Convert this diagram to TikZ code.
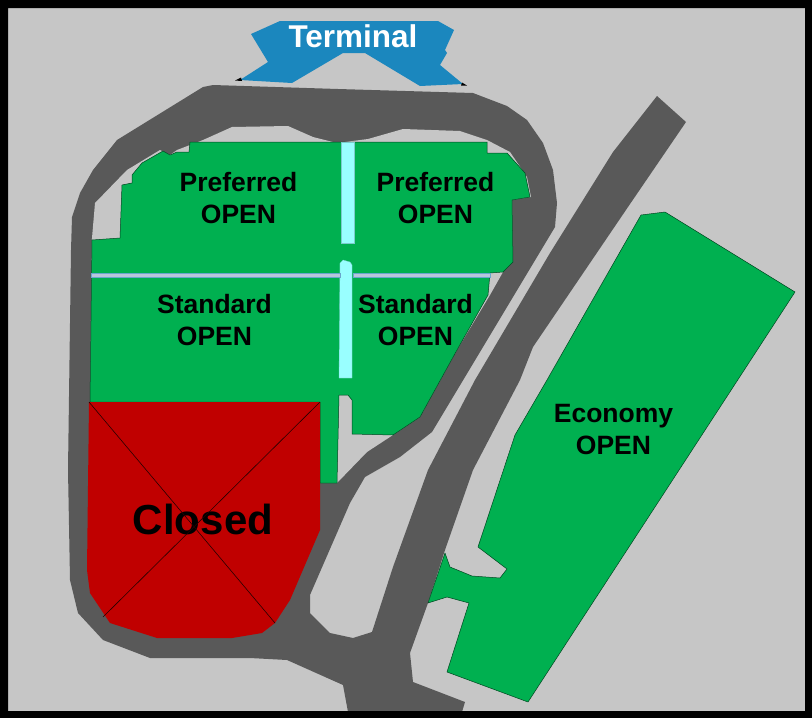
\documentclass[tikz,border=0pt]{standalone}
\usepackage{fontspec}
\setmainfont{Liberation Sans}
\definecolor{lotgray}{HTML}{C6C6C6}
\definecolor{roadgray}{HTML}{595959}
\definecolor{lotgreen}{HTML}{00B050}
\definecolor{lotred}{HTML}{C00000}
\definecolor{termblue}{HTML}{1B87BE}
\definecolor{walkcyan}{HTML}{99FFFF}
\definecolor{stripblue}{HTML}{B8C6DC}
\begin{document}
\begin{tikzpicture}[
  x=1pt, y=-1pt,
  road/.style={fill=roadgray},
  lot/.style={fill=#1, draw=black!60!#1, line width=0.5pt, line join=round},
  walk/.style={fill=walkcyan, draw=black!20!walkcyan, line width=0.3pt},
  strip/.style={fill=stripblue, draw=termblue!50!stripblue, line width=0.4pt},
  lbl/.style={font=\bfseries\fontsize{26.5}{32}\selectfont, align=center, text=black, inner sep=0pt},
]
\useasboundingbox (0,0) rectangle (812,718);
% Ground and frame
\fill[lotgray] (0,0) rectangle (812,718);

% Ring road, branch and main road
\path[road] (203,87) -- (213,85) -- (338,89) -- (473,93) -- (507,106) -- (527,120) -- (543,143)
  -- (553,170) -- (557,203) -- (555,227) -- (432,432) -- (400,457) -- (365,477) -- (350,503)
  -- (310,595) -- (310,613) -- (330,633) -- (353,638) -- (372,632) -- (393,567) -- (428,470)
  -- (475,380) -- (550,253) -- (613,152) -- (657,96) -- (686,122) -- (628,207) -- (533,347)
  -- (520,380) -- (473,470) -- (445,550) -- (428,603) -- (410,653) -- (413,682) -- (465,702)
  -- (462,712) -- (348,712) -- (343,685) -- (287,660) -- (250,658) -- (150,658) -- (103,640)
  -- (78,613) -- (70,580) -- (68,470) -- (71,250) -- (72,217) -- (80,193) -- (93,170) -- (117,140) -- cycle;
% Inside of the ring
\fill[lotgray] (203,140) -- (232,127) -- (288,126) -- (313,137) -- (337,143) -- (368,139)
  -- (403,129) -- (460,131) -- (487,140) -- (510,152) -- (527,177) -- (531,197) -- (512,200)
  -- (513,262) -- (503,272) -- (490,295) -- (457,350) -- (420,417) -- (393,435) -- (367,452)
  -- (337,483) -- (320,483) -- (320,402) -- (90,402) -- (92,238) -- (95,203) -- (127,170)
  -- (160,150) -- (170,155) -- (177,150) -- cycle;

% Terminal
\fill[termblue] (280,21) -- (438,21) -- (454,30) -- (445,50) -- (447,53) -- (440,65) -- (463,84)
  -- (420,86) -- (365,53) -- (343,53) -- (292,83) -- (240,80) -- (268,62) -- (251,34) -- cycle;
\fill[black] (235,80.5) -- (241,77.5) -- (242,81) -- cycle;
\fill[black] (467,85.5) -- (462,82.5) -- (461,85.5) -- cycle;

% Upper lots
\path[lot=lotgreen] (190,142) -- (487,142) -- (487,153) -- (507,153) -- (525,173) -- (530,197)
  -- (512,200) -- (513,262) -- (503,272) -- (490,273) -- (488,295) -- (457,350) -- (420,417)
  -- (393,435) -- (352,434) -- (352,400) -- (348,395) -- (339,395) -- (337,483) -- (320,483)
  -- (320,402) -- (90,402) -- (92,240) -- (120,238) -- (122,185) -- (132,183) -- (132,175)
  -- (142,163) -- (163,151) -- (170,155) -- (177,152) -- (189,152) -- cycle;
\path[walk] (341,142) rectangle (354,243);
\path[walk] (339,378) -- (340,263) -- (343,260) -- (350,262) -- (352,265) -- (352,378) -- cycle;
\path[strip] (91,273) rectangle (340,277.5);
\path[strip] (353,273) rectangle (490,277.5);

% Economy lot
\path[lot=lotgreen] (641,215) -- (665,212) -- (795,292) -- (528,702) -- (447,672) -- (469,603)
  -- (447,597) -- (428,603) -- (445,553) -- (450,567) -- (472,576) -- (500,578) -- (507,569)
  -- (478,547) -- (515,435) -- (547,380) -- cycle;

% Closed lot
\fill[lotred] (89,402) -- (320,402) -- (320,530) -- (290,600) -- (275,623) -- (262,633)
  -- (232,638) -- (157,638) -- (110,623) -- (90,593) -- (87,570) -- cycle;

% Labels
\node[lbl, text=white, font=\bfseries\fontsize{31.5}{36}\selectfont] (term) at (353,36) {Terminal};
\node[lbl] (pref1) at (238.5,198) {Preferred\\OPEN};
\node[lbl] (pref2) at (435.5,198) {Preferred\\OPEN};
\node[lbl] (std1) at (214.5,320) {Standard\\OPEN};
\node[lbl] (std2) at (415.5,320) {Standard\\OPEN};
\node[lbl] (econ) at (613.5,430) {Economy\\OPEN};
\node[lbl, font=\bfseries\fontsize{42}{48}\selectfont] (closed) at (203,519) {Closed};
\draw[line width=0.6pt, black!80!lotred] (89,402) -- (275,623);
\draw[line width=0.6pt, black!80!lotred] (320,402) -- (103,617);

% Frame
\fill[black, even odd rule] (0,0) rectangle (812,718) (8,8) rectangle (805,711);
\end{tikzpicture}
\end{document}
